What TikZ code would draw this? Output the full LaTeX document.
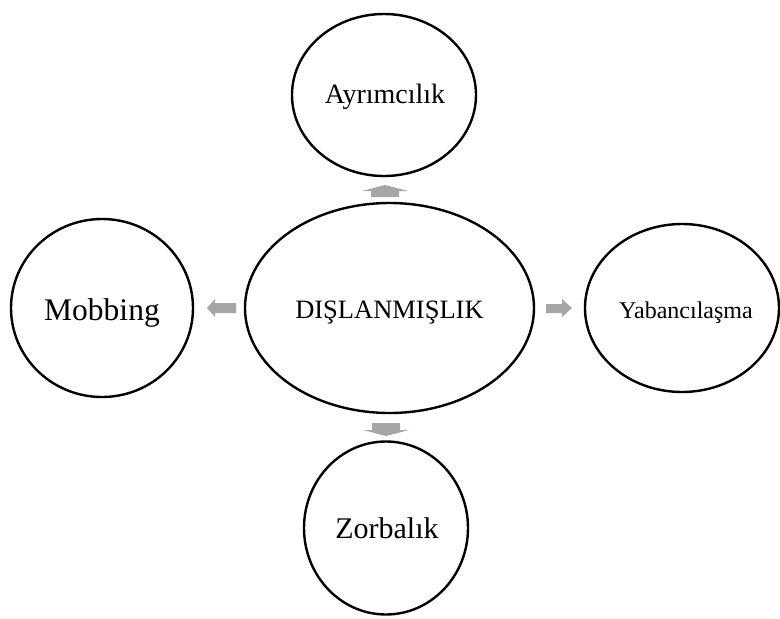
\documentclass[tikz,border=0pt]{standalone}
\usepackage{fontspec}
\setmainfont{Liberation Serif}
\definecolor{arrgray}{RGB}{166,166,166}
\tikzset{
  bubble/.style={draw=black, line width=2.4pt, ellipse, inner sep=0pt},
  blockarrow/.style={fill=arrgray, draw=none},
}
\usetikzlibrary{shapes.geometric}
\begin{document}
\begin{tikzpicture}[x=1pt,y=-1pt]
\useasboundingbox (0,0) rectangle (780,619);
% nodes
\node[bubble, minimum width=289pt, minimum height=210pt] (center) at (389.5,308) {};
\node[font=\fontsize{26.5}{30}\selectfont] (centerlbl) at (389.5,313) {DIŞLANMIŞLIK};
\node[bubble, minimum width=184pt, minimum height=162pt] (top) at (384,95) {};
\node[font=\fontsize{28}{32}\selectfont] (toplbl) at (385,97) {Ayrımcılık};
\node[bubble, minimum width=164pt, minimum height=173pt] (bottom) at (386,528) {};
\node[font=\fontsize{30}{34}\selectfont] (bottomlbl) at (387,528) {Zorbalık};
\node[bubble, minimum width=182pt, minimum height=178pt] (left) at (102,308) {};
\node[font=\fontsize{31.5}{35}\selectfont] (leftlbl) at (102,313) {Mobbing};
\node[bubble, minimum width=194pt, minimum height=168pt] (right) at (682,308) {};
\node[font=\fontsize{24}{28}\selectfont] (rightlbl) at (686,313) {Yabancılaşma};
% block arrows
\fill[blockarrow] (371,197) -- (399,197) -- (399,191) -- (408,191) -- (385,185) -- (362,191) -- (371,191) -- cycle;
\fill[blockarrow] (372,423) -- (400,423) -- (400,430) -- (409,430) -- (386,436) -- (363,430) -- (372,430) -- cycle;
\fill[blockarrow] (236,303) -- (236,313) -- (215,313) -- (215,317) -- (207,308) -- (215,299) -- (215,303) -- cycle;
\fill[blockarrow] (546,304) -- (562,304) -- (562,299) -- (572,308) -- (562,317) -- (562,313) -- (546,313) -- cycle;
\end{tikzpicture}
\end{document}
